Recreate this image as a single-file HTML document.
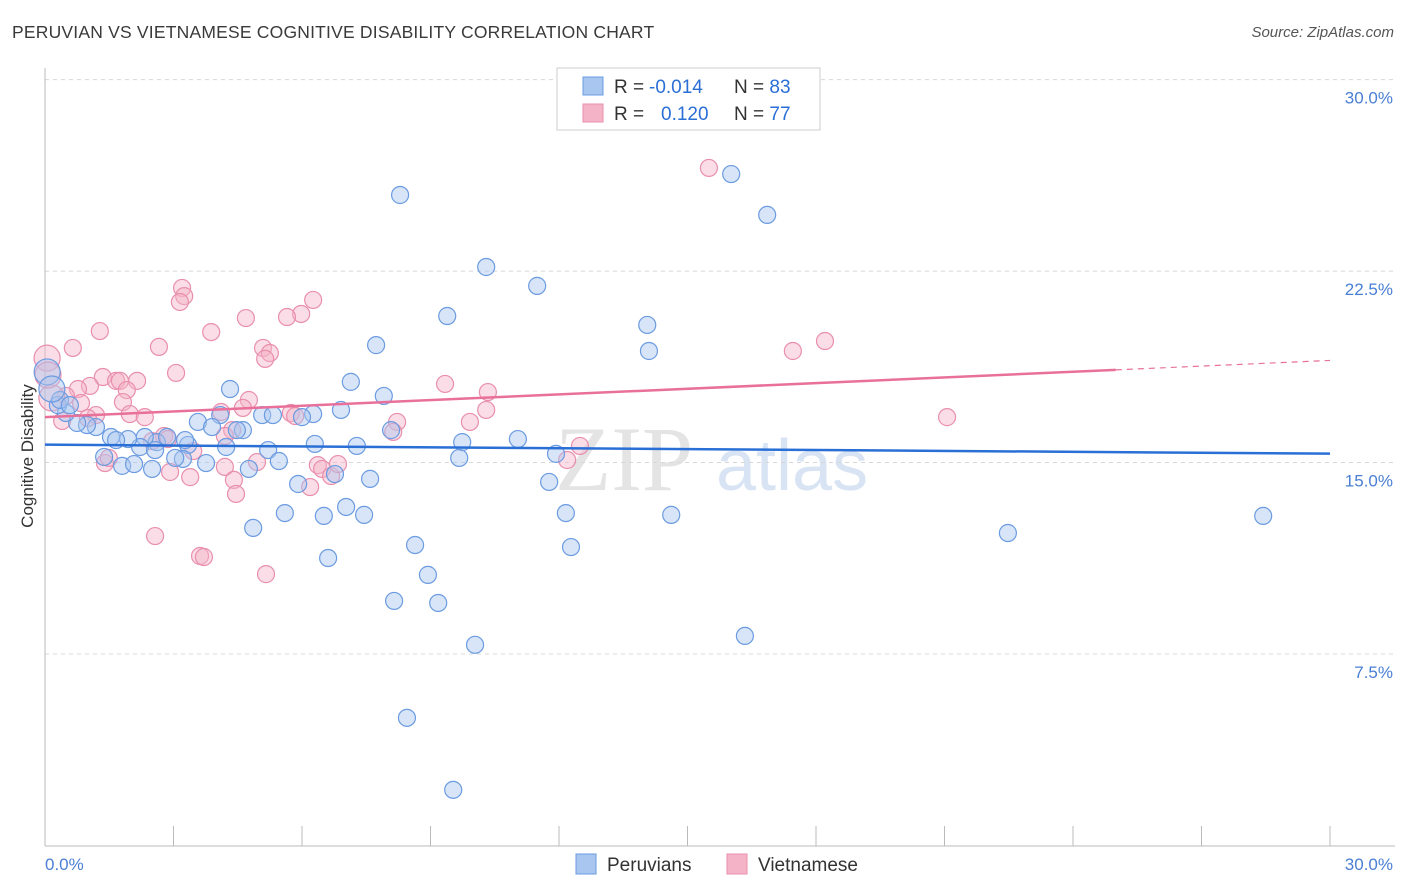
<!DOCTYPE html>
<html><head><meta charset="utf-8">
<style>
body{margin:0;background:#fff;font-family:"Liberation Sans",sans-serif;}
#wrap{position:relative;width:1406px;height:892px;overflow:hidden;}
.t{position:absolute;white-space:nowrap;}
</style></head>
<body>
<div id="wrap">
<div class="t" style="left:12px;top:22px;font-size:17.5px;color:#3a3a3a;letter-spacing:0.2px">PERUVIAN VS VIETNAMESE COGNITIVE DISABILITY CORRELATION CHART</div>
<div class="t" style="right:12px;top:24px;font-size:15px;color:#555;font-style:italic">Source: ZipAtlas.com</div>
<svg id="plot" width="1406" height="892" style="position:absolute;left:0;top:0"></svg>
</div>
<script>
const blueX=[8.29,16.02,16.86,10.30,11.49,9.39,14.06,14.10,7.73,7.14,7.91,4.32,6.91,6.26,5.07,5.32,6.00,4.09,3.57,3.90,4.62,4.48,4.23,5.21,5.46,6.30,7.28,8.08,9.74,11.04,11.93,9.67,11.77,12.16,12.28,14.62,16.34,22.48,28.44,7.59,6.77,5.91,7.03,7.45,6.51,5.60,4.86,6.61,8.64,8.94,8.15,9.18,10.04,8.45,9.53,4.76,3.76,3.34,3.22,3.04,2.61,2.33,2.22,1.94,1.54,1.66,1.38,1.80,2.08,2.50,1.19,0.98,0.75,0.49,0.30,0.35,0.58,0.05,0.16,2.57,2.85,3.27];
const blueY=[25.48,26.30,24.70,22.66,21.92,20.74,20.39,19.37,19.60,18.16,17.61,17.88,17.06,16.90,16.86,16.86,16.78,16.86,16.59,16.39,16.27,16.27,15.61,15.49,15.06,15.73,15.65,16.27,15.80,15.92,15.34,15.18,14.24,13.02,11.69,12.95,8.21,12.24,12.91,14.36,14.55,14.16,13.26,12.95,12.91,13.02,12.44,11.26,11.77,10.60,9.58,9.50,7.86,5.00,2.18,14.75,14.98,15.69,15.14,15.18,15.80,16.00,15.61,15.92,16.00,15.88,15.22,14.87,14.94,14.75,16.39,16.47,16.55,16.94,17.25,17.45,17.25,18.55,17.88,15.49,16.00,15.88];
const pinkX=[15.50,3.20,3.25,3.15,6.26,5.98,5.65,4.69,3.88,1.28,0.65,2.66,3.06,5.09,5.25,5.14,17.46,18.21,9.34,10.34,10.30,9.92,8.22,8.13,21.06,1.35,1.66,1.75,2.15,1.05,0.77,1.91,1.82,0.84,0.49,0.16,0.05,0.07,4.76,4.11,4.62,1.98,1.19,1.00,2.33,0.40,4.37,4.20,5.74,5.84,2.78,2.87,3.46,2.50,4.95,4.20,1.40,1.49,2.92,3.39,6.37,6.47,6.68,6.84,6.19,4.41,4.46,12.19,12.49,2.57,3.62,3.71,5.16];
const pinkY=[26.54,21.84,21.52,21.29,21.37,20.82,20.70,20.66,20.11,20.15,19.49,19.53,18.51,19.49,19.29,19.06,19.37,19.76,18.08,17.76,17.06,16.59,16.59,16.20,16.78,18.35,18.20,18.20,18.20,18.00,17.88,17.84,17.37,17.33,17.61,17.53,19.09,18.43,17.45,16.98,17.14,16.90,16.86,16.74,16.78,16.63,16.27,16.04,16.94,16.82,16.04,15.92,15.45,15.84,15.02,14.83,14.98,15.18,14.63,14.43,14.90,14.75,14.47,14.94,14.04,14.32,13.77,15.10,15.65,12.12,11.34,11.30,10.63];
const blueTrend=[15.70,15.35];
const pinkTrend=[16.78,19.00];
const yTicks=[7.5,15,22.5,30];
const yTickLabels=["7.5%","15.0%","22.5%","30.0%"];
const xTicks=[0,3,6,9,12,15,18,21,24,27,30];

const NS="http://www.w3.org/2000/svg";
const svg=document.getElementById('plot');
const X0=45,X1=1330,Y0=845.5,YS=25.53;
const sx=v=>X0+(v/30)*(X1-X0);
const sy=v=>Y0-v*YS;
function mk(tag,attrs){const e=document.createElementNS(NS,tag);for(const k in attrs)e.setAttribute(k,attrs[k]);svg.appendChild(e);return e;}

// watermark
let w=mk('text',{x:555,y:490,'font-size':92,'font-family':'Liberation Serif,serif',fill:'#e4e4e4'});w.textContent='ZIP';


let w2=mk('text',{x:716,y:490,'font-size':72,'font-family':'Liberation Sans,sans-serif',fill:'#d8e4f4'});w2.textContent='atlas';



yTicks.forEach((v,i)=>{
  const g=mk('line',{x1:X0,x2:1395,y1:sy(v),y2:sy(v),stroke:'#d8d8d8','stroke-dasharray':'4,4'});
  
  
  const t=mk('text',{x:1393,y:sy(v)+24,'text-anchor':'end','font-size':17,fill:'#4a7fd4'});
  t.textContent=yTickLabels[i];
  
  
});
mk('line',{x1:X0,x2:X0,y1:68,y2:846,stroke:'#bbb'});
mk('line',{x1:X0,x2:1395,y1:846,y2:846,stroke:'#bbb'});
xTicks.forEach(v=>{
  const l=mk('line',{x1:sx(v),x2:sx(v),y1:826,y2:846,stroke:'#bbb'});
  
  
});
let xl=mk('text',{x:45,y:870,'font-size':17,fill:'#4a7fd4'});xl.textContent='0.0%';


let xr=mk('text',{x:1393,y:870,'text-anchor':'end','font-size':17,fill:'#4a7fd4'});xr.textContent='30.0%';


let yt=mk('text',{x:0,y:0,transform:'translate(33,456) rotate(-90)','text-anchor':'middle','font-size':17,fill:'#333'});yt.textContent='Cognitive Disability';



function pts(xs,ys,fill,stroke,name){
  xs.forEach((x,i)=>{
    const r=(x<0.2)?13:8.5;
    const c=mk('circle',{cx:sx(x),cy:sy(ys[i]),r:r,fill:fill,'fill-opacity':0.45,stroke:stroke,'stroke-width':1.2});
    
    
  });
}
pts(pinkX,pinkY,'#f5b3c7','#e98fad','vietnamese-point');
pts(blueX,blueY,'#a8c6ef','#6b9be0','peruvian-point');

const bl=mk('line',{x1:sx(0),x2:sx(30),y1:sy(blueTrend[0]),y2:sy(blueTrend[1]),stroke:'#2a6fd6','stroke-width':2.5});


const f=25;const pm=pinkTrend[0]+(pinkTrend[1]-pinkTrend[0])*f/30;
const pl=mk('line',{x1:sx(0),x2:sx(f),y1:sy(pinkTrend[0]),y2:sy(pm),stroke:'#e8709a','stroke-width':2.5});


const pd=mk('line',{x1:sx(f),x2:sx(30),y1:sy(pm),y2:sy(pinkTrend[1]),stroke:'#e8709a','stroke-width':1.2,'stroke-dasharray':'6,5'});



// top legend
const lg=mk('rect',{x:557,y:68,width:263,height:62,fill:'#fff',stroke:'#ccc'});


[[77,'#a8c6ef','#6b9be0','-0.014','83'],[104,'#f5b3c7','#e98fad','0.120','77']].forEach((r,i)=>{
  const s=mk('rect',{x:583,y:r[0],width:20,height:18,fill:r[1],stroke:r[2]});
  
  
  const t=mk('text',{x:614,y:r[0]+16,'font-size':19,fill:'#333'});
  t.innerHTML='R = <tspan fill="#2a6fd6" x="'+(i?661:649)+'">'+r[3]+'</tspan><tspan x="734" fill="#333">N = </tspan><tspan fill="#2a6fd6">'+r[4]+'</tspan>';
  
  
});
// bottom legend
[[576,'#a8c6ef','#6b9be0','Peruvians'],[727,'#f5b3c7','#e98fad','Vietnamese']].forEach(r=>{
  const s=mk('rect',{x:r[0],y:854,width:20,height:20,fill:r[1],stroke:r[2]});
  
  
  const t=mk('text',{x:r[0]+31,y:871,'font-size':19,fill:'#333'});t.textContent=r[3];
  
  
});
</script>
</body></html>
